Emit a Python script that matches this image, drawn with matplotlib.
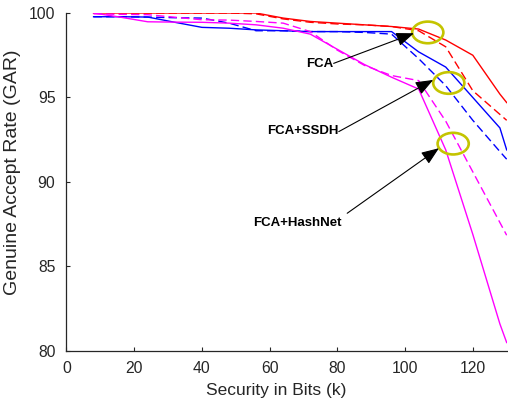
import matplotlib
matplotlib.use("Agg")
import matplotlib.pyplot as plt
from matplotlib.patches import Ellipse

plt.rcParams['font.family'] = ['Liberation Sans', 'DejaVu Sans']
plt.rcParams['lines.scale_dashes'] = False

# security bits (k)
bits = [8, 16, 24, 32, 40, 48, 56, 64, 72, 80, 88, 96, 104, 112, 120, 128, 130]

fca_solid = [100, 100, 100, 100, 100, 100, 100, 99.7, 99.5, 99.4, 99.3, 99.2, 99.05, 98.4, 97.5, 95.2, 94.7]
fca_dash = [100, 100, 100, 100, 100, 100, 99.95, 99.65, 99.45, 99.35, 99.3, 99.2, 98.95, 98.0, 95.4, 94.0, 93.65]
ssdh_solid = [99.78, 99.78, 99.76, 99.45, 99.15, 99.1, 99.0, 98.95, 98.9, 98.9, 98.9, 98.9, 97.7, 96.8, 95.0, 93.2, 91.9]
ssdh_dash = [99.78, 99.78, 99.76, 99.72, 99.7, 99.4, 98.95, 98.95, 98.9, 98.9, 98.85, 98.75, 97.3, 95.7, 93.65, 91.8, 91.35]
hash_solid = [100, 99.75, 99.48, 99.46, 99.45, 99.4, 99.3, 99.1, 98.75, 97.85, 96.95, 96.2, 95.5, 91.9, 86.9, 81.6, 80.5]
hash_dash = [99.95, 99.92, 99.9, 99.75, 99.6, 99.58, 99.5, 99.4, 98.9, 97.8, 96.9, 96.3, 96.0, 93.6, 90.6, 87.6, 86.85]

# annotation labels: (text, text pos, arrow tail, arrow tip)
labels = ["FCA", "FCA+SSDH", "FCA+HashNet"]
label_pos = [(74.9, 96.98), (69.8, 93.02), (68.2, 87.57)]
arrow_tail = [(78.9, 97.02), (80.4, 92.98), (82.9, 88.15)]
arrow_tip = [(102.6, 98.8), (108.3, 96.04), (110.0, 92.0)]
circle_centers = [(106.7, 98.85), (112.9, 95.86), (114.2, 92.27)]

fig = plt.figure(figsize=(5.08, 4.0), dpi=100)
ax = fig.add_axes([0.1309, 0.1225, 0.8665, 0.845])

lw = 1.0
ax.plot(bits, fca_solid, color='#ff0000', lw=lw)
ax.plot(bits, fca_dash, color='#ff0000', lw=lw, dashes=(6, 3))
ax.plot(bits, ssdh_solid, color='#0000ff', lw=lw)
ax.plot(bits, ssdh_dash, color='#0000ff', lw=lw, dashes=(6, 3))
ax.plot(bits, hash_solid, color='#ff00ff', lw=lw)
ax.plot(bits, hash_dash, color='#ff00ff', lw=lw, dashes=(6, 3))

for c in circle_centers:
    ax.add_patch(Ellipse(c, 9.2, 1.28, fill=False, edgecolor='#c4c400', lw=1.9, zorder=5))

for txt, pos, tail, tip in zip(labels, label_pos, arrow_tail, arrow_tip):
    ax.text(pos[0], pos[1], txt, ha='center', va='center', fontsize=9.5, fontweight='bold')
    ax.annotate('', xy=tip, xytext=tail,
                arrowprops=dict(arrowstyle='-|>,head_length=0.9,head_width=0.35', color='k',
                                lw=0.8, mutation_scale=12, shrinkA=0, shrinkB=0), zorder=6)

ax.set_xlim(0, 130)
ax.set_ylim(80, 100)
ax.set_xticks(range(0, 121, 20))
ax.set_yticks(range(80, 101, 5))

grey = '#262626'
for s in ['top', 'right']:
    ax.spines[s].set_visible(False)
for s in ['left', 'bottom']:
    ax.spines[s].set_color(grey)
    ax.spines[s].set_linewidth(0.9)
ax.tick_params(direction='in', length=3, width=0.8, color=grey, labelcolor=grey, labelsize=11.3)
ax.tick_params(axis='x', pad=7)
ax.tick_params(axis='y', pad=8)

ax.set_xlabel('Security in Bits (k)', fontsize=12.5, color=grey)
ax.set_ylabel('Genuine Accept Rate (GAR)', fontsize=14, color=grey)
ax.xaxis.set_label_coords(0.476, -0.094)
ax.yaxis.set_label_coords(-0.103, 0.53)

fig.savefig('out.png', dpi=100)
